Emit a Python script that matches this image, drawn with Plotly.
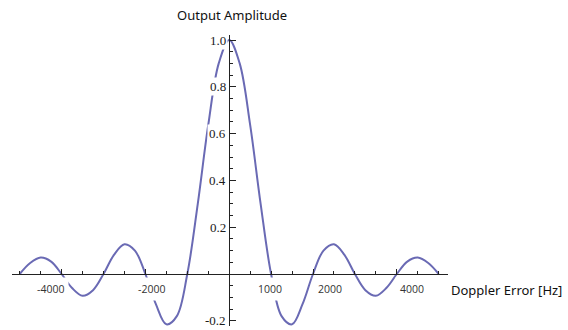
import plotly.graph_objects as go

# ---- data ----
doppler_hz = [-5000, -4750, -4500, -4250, -4000, -3750, -3500, -3250, -3000, -2750,
              -2500, -2250, -2000, -1750, -1500, -1250, -1000, -750, -500, -250,
              0, 250, 500, 750, 1000, 1250, 1500, 1750, 2000, 2250,
              2500, 2750, 3000, 3250, 3500, 3750, 4000, 4250, 4500, 4750, 5000]
amplitude = [0.0, 0.047, 0.070, 0.053, 0.0, -0.060, -0.093, -0.069, 0.0, 0.082,
             0.127, 0.100, 0.0, -0.129, -0.215, -0.180, 0.0, 0.300, 0.637, 0.900,
             1.0, 0.900, 0.637, 0.300, 0.0, -0.180, -0.215, -0.129, 0.0, 0.100,
             0.127, 0.082, 0.0, -0.069, -0.093, -0.060, 0.0, 0.053, 0.070, 0.047, 0.0]

x_tick_labels = ["-4000", "-2000", "1000", "2000", "4000"]
y_tick_values = [1.0, 0.8, 0.6, 0.4, 0.2, -0.2]
y_tick_labels = ["1.0", "0.8", "0.6", "0.4", "0.2", "-0.2"]
x_title = "Doppler Error [Hz]"
y_title = "Output Amplitude"

# ---- layout geometry (pixels in 568x330) ----
W, H = 568, 330
x0_px, y0_px = 229.2, 274.0          # origin pixel
px_per_hz = 0.0419
px_per_unit = 234.0
xline = (12, 448)                     # x axis line extent (px)
yline = (35, 326)                     # y axis line extent (px, top->bottom)

x_range = [(xline[0] - x0_px) / px_per_hz, (xline[1] - x0_px) / px_per_hz]
y_range = [(y0_px - yline[1]) / px_per_unit, (y0_px - yline[0]) / px_per_unit]

x_label_px = [50.0, 151.7, 270.0, 330.0, 411.5]

fig = go.Figure()
fig.add_trace(go.Scatter(
    x=doppler_hz, y=amplitude, mode="lines",
    line=dict(color="#6a6ab4", width=2, shape="spline", smoothing=1.0),
    hoverinfo="skip", showlegend=False,
))

axis_color = "#222222"
fig.update_layout(
    width=W, height=H,
    margin=dict(l=0, r=0, t=0, b=0),
    paper_bgcolor="white", plot_bgcolor="white",
    showlegend=False,
    xaxis=dict(
        domain=[xline[0] / W, xline[1] / W],
        range=x_range, anchor="free", position=1 - y0_px / H,
        showgrid=False, zeroline=False, showline=True,
        linecolor=axis_color, linewidth=1,
        ticks="inside", ticklen=5, tickwidth=1, tickcolor=axis_color,
        tick0=0, dtick=2000, showticklabels=False,
        minor=dict(ticks="inside", ticklen=3, tickwidth=1, tickcolor=axis_color,
                   tick0=0, dtick=500, showgrid=False),
    ),
    yaxis=dict(
        domain=[1 - yline[1] / H, 1 - yline[0] / H],
        range=y_range, anchor="free", position=x0_px / W,
        showgrid=False, zeroline=False, showline=True,
        linecolor=axis_color, linewidth=1,
        ticks="inside", ticklen=6, tickwidth=1, tickcolor=axis_color,
        tick0=0, dtick=0.2, showticklabels=False,
        minor=dict(ticks="inside", ticklen=3, tickwidth=1, tickcolor=axis_color,
                   tick0=0, dtick=0.05, showgrid=False),
    ),
)

annotations = []
for txt, px in zip(x_tick_labels, x_label_px):
    annotations.append(dict(
        x=px / W, y=1 - 288.5 / H, xref="paper", yref="paper",
        text=txt, showarrow=False, xanchor="center", yanchor="middle",
        font=dict(family="Open Sans", size=10.5, color="#333333"),
        bgcolor="white", borderpad=4,
    ))
for val, txt in zip(y_tick_values, y_tick_labels):
    annotations.append(dict(
        x=227.5 / W, y=val, xref="paper", yref="y",
        text=txt, showarrow=False, xanchor="right", yanchor="middle",
        font=dict(family="Liberation Serif", size=13, color="#1a1a1a"),
        bgcolor="white", borderpad=1,
    ))
annotations.append(dict(
    x=231.7 / W, y=1 - 15 / H, xref="paper", yref="paper",
    text=y_title, showarrow=False, xanchor="center", yanchor="middle",
    font=dict(family="Noto Sans", size=13, color="#111111"),
))
annotations.append(dict(
    x=449 / W, y=1 - 290 / H, xref="paper", yref="paper",
    text=x_title, showarrow=False, xanchor="left", yanchor="middle",
    font=dict(family="Noto Sans", size=13, color="#111111"),
))
fig.update_layout(annotations=annotations)

fig.write_html(
    "out.html",
    config={"displayModeBar": False, "staticPlot": True},
    post_script="document.body.style.margin='0';document.body.style.overflow='hidden';",
)
